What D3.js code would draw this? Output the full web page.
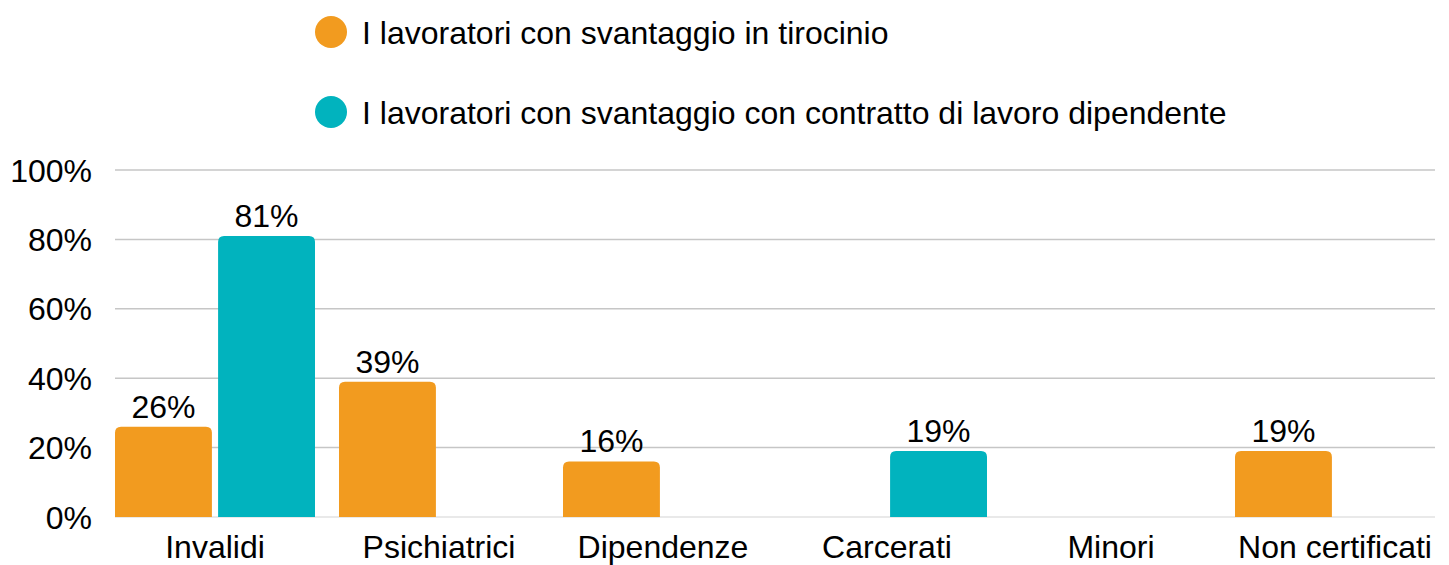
<!DOCTYPE html>
<html lang="it">
<head>
    <meta charset="UTF-8">
    <title>Lavoratori con svantaggio</title>
    <script src="https://d3js.org/d3.v7.min.js"></script>
    <style>
        body { margin: 0; background: #fff; }
        text { font-family: "Liberation Sans", Arial, sans-serif; fill: #000; }
    </style>
</head>
<body>
    <div id="chart"></div>
    <script>
        // data
        const categories = ["Invalidi", "Psichiatrici", "Dipendenze", "Carcerati", "Minori", "Non certificati"];
        const seriesNames = [
            "I lavoratori con svantaggio in tirocinio",
            "I lavoratori con svantaggio con contratto di lavoro dipendente"
        ];
        const tirocinio = [26, 39, 16, null, null, 19];
        const dipendente = [81, null, null, 19, null, null];
        const yTicks = [0, 20, 40, 60, 80, 100];
        const colors = ["#f29b1f", "#01b3be"];

        const width = 1449, height = 565;
        const svg = d3.select("#chart").append("svg")
            .attr("width", width)
            .attr("height", height);

        const x = d3.scaleBand()
            .domain(categories)
            .range([115, 1435])
            .paddingInner(24 / 224)
            .paddingOuter(0);

        const x1 = d3.scaleBand()
            .domain([0, 1])
            .range([0, x.bandwidth()])
            .paddingInner(0.06);

        const y = d3.scaleLinear().domain([0, 100]).range([517, 170]);

        // gridlines
        svg.append("g")
            .selectAll("line")
            .data(yTicks)
            .join("line")
            .attr("x1", 115)
            .attr("x2", 1435)
            .attr("y1", d => y(d))
            .attr("y2", d => y(d))
            .attr("stroke", d => d === 0 ? "#e2e2e2" : "#c6c6c6")
            .attr("stroke-width", 1.5);

        // y axis labels
        svg.append("g")
            .selectAll("text")
            .data(yTicks)
            .join("text")
            .attr("x", 92)
            .attr("y", d => y(d))
            .attr("dy", "0.36em")
            .attr("text-anchor", "end")
            .attr("font-size", 32)
            .text(d => d + "%");

        // x axis labels
        svg.append("g")
            .selectAll("text")
            .data(categories)
            .join("text")
            .attr("x", d => x(d) + x.bandwidth() / 2)
            .attr("y", 558)
            .attr("text-anchor", "middle")
            .attr("font-size", 32)
            .text(d => d);

        // bars with rounded top
        function barPath(x0, w, yTop, yBase, r) {
            r = Math.min(r, w / 2, yBase - yTop);
            return `M${x0},${yBase}V${yTop + r}Q${x0},${yTop} ${x0 + r},${yTop}` +
                `H${x0 + w - r}Q${x0 + w},${yTop} ${x0 + w},${yTop + r}V${yBase}Z`;
        }

        const series = [tirocinio, dipendente];
        series.forEach((vals, s) => {
            const data = categories.map((c, i) => ({ c, v: vals[i] })).filter(d => d.v != null);
            const g = svg.append("g");
            g.selectAll("path")
                .data(data)
                .join("path")
                .attr("fill", colors[s])
                .attr("d", d => barPath(x(d.c) + x1(s), x1.bandwidth(), y(d.v), y(0), 6));
            g.selectAll("text")
                .data(data)
                .join("text")
                .attr("x", d => x(d.c) + x1(s) + x1.bandwidth() / 2)
                .attr("y", d => y(d.v) - 9)
                .attr("text-anchor", "middle")
                .attr("font-size", 32)
                .text(d => d.v + "%");
        });

        // legend
        const legend = svg.append("g")
            .selectAll("g")
            .data(seriesNames)
            .join("g")
            .attr("transform", (d, i) => `translate(331,${32 + i * 80})`);
        legend.append("circle")
            .attr("r", 16)
            .attr("fill", (d, i) => colors[i]);
        legend.append("text")
            .attr("x", 31)
            .attr("dy", "0.36em")
            .attr("font-size", 32)
            .text(d => d);
    </script>
</body>
</html>
